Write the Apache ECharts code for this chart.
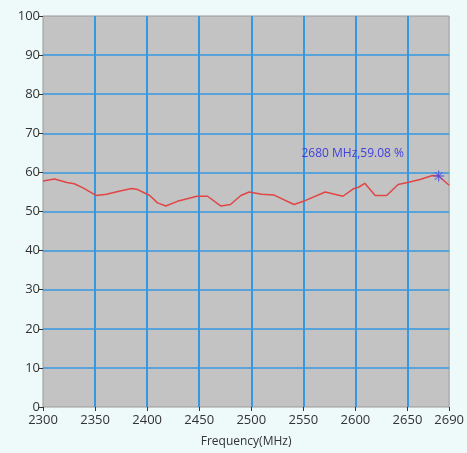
<!DOCTYPE html>
<html><head><meta charset="utf-8">
<script src="https://cdn.jsdelivr.net/npm/echarts@6/dist/echarts.min.js"></script>
<style>html,body{margin:0;padding:0;background:#eef9fa;}#c{width:467px;height:453px;}</style>
</head><body><div id="c"></div>
<script>
const freqs = [2300, 2311, 2323, 2330, 2338, 2351, 2361, 2373, 2385, 2391, 2397, 2402, 2410, 2418, 2429, 2448, 2458, 2471, 2480, 2490, 2498, 2510, 2522, 2541, 2550, 2571, 2588, 2598, 2603, 2609, 2619, 2630, 2641, 2650, 2662, 2674, 2680, 2690];
const efficiency = [57.8, 58.3, 57.4, 57.1, 56.1, 54.1, 54.4, 55.2, 55.9, 55.6, 54.8, 54.2, 52.2, 51.4, 52.6, 53.9, 53.9, 51.4, 51.8, 54.1, 55.0, 54.4, 54.2, 51.8, 52.6, 55.0, 53.9, 55.8, 56.2, 57.2, 54.1, 54.1, 56.9, 57.4, 58.2, 59.2, 59.08, 56.7];
const markerFreq = 2680;
const markerValue = 59.08;
const markerText = '2680 MHz,59.08 %';
const xTitle = 'Frequency(MHz)';

const chart = echarts.init(document.getElementById('c'));
const font = '"Open Sans", "DejaVu Sans", sans-serif';
chart.setOption({
  backgroundColor: '#eef9fa',
  animation: false,
  grid: {left: 43, right: 15, top: 16, bottom: 46, show: true, backgroundColor: '#c3c3c3', borderColor: '#9a9a9a', borderWidth: 1},
  xAxis: {
    type: 'value', min: 2300, max: 2690, interval: 50,
    name: xTitle, nameLocation: 'middle', nameGap: 29,
    nameTextStyle: {color: '#333', fontSize: 12, fontFamily: font},
    axisLine: {show: false},
    axisTick: {show: true, length: 4, lineStyle: {color: '#333'}},
    axisLabel: {color: '#333', fontSize: 13, fontFamily: font, margin: 7, showMaxLabel: true, formatter: v => String(v)},
    splitLine: {show: true, showMinLine: false, showMaxLine: false, lineStyle: {color: '#3598e0', width: 2}}
  },
  yAxis: {
    type: 'value', min: 0, max: 100, interval: 10,
    axisLine: {show: false},
    axisTick: {show: true, length: 4, lineStyle: {color: '#333'}},
    axisLabel: {color: '#333', fontSize: 13, fontFamily: font, margin: 3},
    splitLine: {show: true, showMinLine: false, showMaxLine: false, lineStyle: {color: '#3598e0', width: 1.5}}
  },
  series: [{
    type: 'line',
    data: freqs.map((f, i) => [f, efficiency[i]]),
    symbol: 'none',
    lineStyle: {color: '#e04646', width: 1.5},
    markPoint: {
      symbol: 'path://M0,-5L0,5M-5,0L5,0M-3.6,-3.6L3.6,3.6M-3.6,3.6L3.6,-3.6',
      symbolSize: 11,
      itemStyle: {color: 'none', borderColor: '#4a4ae0', borderWidth: 1},
      label: {show: true, formatter: markerText, position: 'inside', offset: [-86, -22], color: '#4040dd', fontSize: 12, fontFamily: font},
      data: [{coord: [markerFreq, markerValue]}]
    }
  }]
});
</script></body></html>
